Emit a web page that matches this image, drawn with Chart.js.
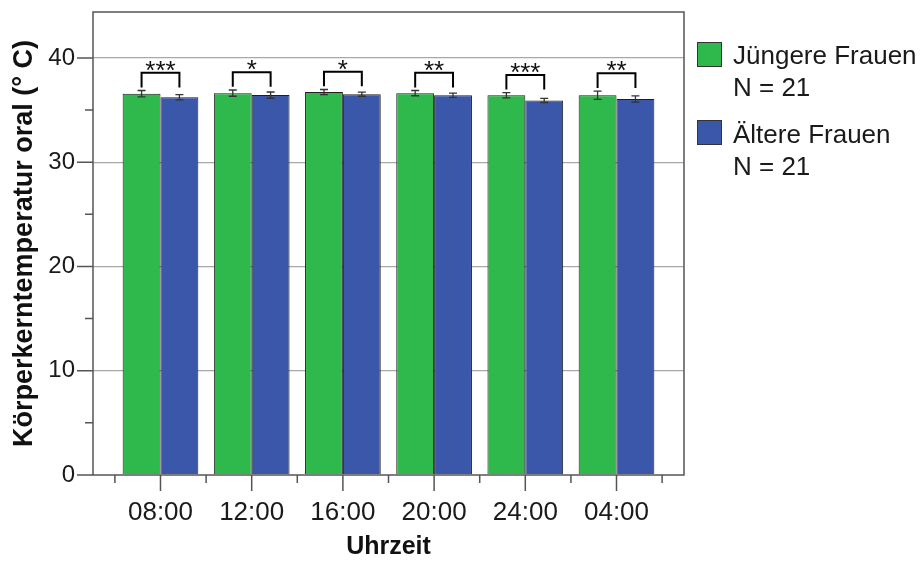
<!DOCTYPE html>
<html><head><meta charset="utf-8">
<script src="https://cdn.jsdelivr.net/npm/chart.js@4.4.1/dist/chart.umd.min.js"></script>
<style>html,body{margin:0;padding:0;background:#fff}#wrap{width:922px;height:562px}</style>
</head><body><div id="wrap"><canvas id="c" width="922" height="562"></canvas></div>
<script>
// ---- data ----
const categories = ['08:00', '12:00', '16:00', '20:00', '24:00', '04:00'];
const youngLabel = ['Jüngere Frauen', 'N = 21'];
const oldLabel = ['Ältere Frauen', 'N = 21'];
const youngMeans = [36.57, 36.62, 36.72, 36.62, 36.42, 36.42];
const youngErr = [0.30, 0.30, 0.25, 0.25, 0.25, 0.40];
const oldMeans = [36.22, 36.43, 36.52, 36.42, 35.92, 36.05];
const oldErr = [0.25, 0.30, 0.20, 0.20, 0.20, 0.30];
const significance = ['***', '*', '*', '**', '***', '**'];
const yTickValues = [0, 5, 10, 15, 20, 25, 30, 35, 40];
const yMax = 44.4;
const yTitle = 'Körperkerntemperatur oral (° C)';
const xTitle = 'Uhrzeit';

// ---- style ----
const FONT = '"Liberation Sans", Arial, Helvetica, sans-serif';
const GREEN = '#2fb84b';
const BLUE = '#3b57a9';
const FRAME = '#555555';

const decor = {
  id: 'decor',
  afterDatasetsDraw(chart) {
    const { ctx, scales: { y } } = chart;
    ctx.save();
    // error bars
    chart.data.datasets.forEach((ds, di) => {
      const meta = chart.getDatasetMeta(di);
      meta.data.forEach((bar, i) => {
        const m = ds.data[i].y, e = ds.errors[i];
        const px = bar.x, t = y.getPixelForValue(m + e), b = y.getPixelForValue(m - e);
        ctx.strokeStyle = '#333';
        ctx.lineWidth = 1.3;
        ctx.beginPath();
        ctx.moveTo(px, t); ctx.lineTo(px, b);
        ctx.moveTo(px - 4, t); ctx.lineTo(px + 4, t);
        ctx.moveTo(px - 4, b); ctx.lineTo(px + 4, b);
        ctx.stroke();
      });
    });
    // significance brackets
    const m0 = chart.getDatasetMeta(0), m1 = chart.getDatasetMeta(1);
    significance.forEach((s, i) => {
      const hi = Math.max(youngMeans[i] + youngErr[i], oldMeans[i] + oldErr[i]);
      const yt = y.getPixelForValue(hi + 1.7), yb = y.getPixelForValue(hi + 0.3);
      const x0 = m0.data[i].x, x1 = m1.data[i].x;
      ctx.strokeStyle = '#000';
      ctx.lineWidth = 2;
      ctx.beginPath();
      ctx.moveTo(x0, yb); ctx.lineTo(x0, yt); ctx.lineTo(x1, yt); ctx.lineTo(x1, yb);
      ctx.stroke();
      ctx.fillStyle = '#111';
      ctx.font = '26px ' + FONT;
      ctx.textAlign = 'center';
      ctx.textBaseline = 'alphabetic';
      ctx.fillText(s, (x0 + x1) / 2, yt + 6);
    });
    ctx.restore();
  },
  afterDraw(chart) {
    const { ctx, chartArea: a, scales: { x, y } } = chart;
    ctx.save();
    ctx.strokeStyle = FRAME;
    ctx.lineWidth = 1.5;
    ctx.strokeRect(a.left, a.top, a.right - a.left, a.bottom - a.top);
    ctx.beginPath();
    yTickValues.forEach(v => {
      const len = v % 10 === 0 ? 16 : 8;
      const py = y.getPixelForValue(v);
      ctx.moveTo(a.left - len, py); ctx.lineTo(a.left, py);
    });
    categories.forEach((c, i) => {
      const px = x.getPixelForValue(i);
      ctx.moveTo(px, a.bottom); ctx.lineTo(px, a.bottom + 16);
      const pl = x.getPixelForValue(i - 0.5);
      ctx.moveTo(pl, a.bottom); ctx.lineTo(pl, a.bottom + 8);
      if (i === categories.length - 1) {
        const pr = x.getPixelForValue(i + 0.5);
        ctx.moveTo(pr, a.bottom); ctx.lineTo(pr, a.bottom + 8);
      }
    });
    ctx.stroke();
    // legend
    const lx = a.right + 13;
    const entries = [
      { color: GREEN, lines: youngLabel, sq: 42, ty: 57 },
      { color: BLUE, lines: oldLabel, sq: 120, ty: 136 }
    ];
    ctx.font = '26px ' + FONT;
    ctx.textAlign = 'left';
    ctx.textBaseline = 'middle';
    entries.forEach(en => {
      ctx.fillStyle = en.color;
      ctx.fillRect(lx, en.sq, 25, 25);
      ctx.strokeStyle = '#333';
      ctx.lineWidth = 1;
      ctx.strokeRect(lx + 0.5, en.sq + 0.5, 24, 24);
      ctx.fillStyle = '#1a1a1a';
      en.lines.forEach((t, k) => ctx.fillText(t, lx + 36, en.ty + k * 32));
    });
    ctx.restore();
  }
};

new Chart(document.getElementById('c'), {
  type: 'bar',
  data: {
    datasets: [
      {
        label: youngLabel.join(' '),
        data: categories.map((c, i) => ({ x: i, y: youngMeans[i] })),
        errors: youngErr,
        backgroundColor: GREEN,
        borderColor: '#1e1e1e',
        borderWidth: 1,
        barPercentage: 1,
        categoryPercentage: 0.83
      },
      {
        label: oldLabel.join(' '),
        data: categories.map((c, i) => ({ x: i, y: oldMeans[i] })),
        errors: oldErr,
        backgroundColor: BLUE,
        borderColor: '#1e1e1e',
        borderWidth: 1,
        barPercentage: 1,
        categoryPercentage: 0.83
      }
    ]
  },
  options: {
    responsive: false,
    animation: false,
    devicePixelRatio: 1,
    layout: { padding: { top: 12, right: 238, left: 0, bottom: 0 } },
    plugins: { legend: { display: false }, tooltip: { enabled: false } },
    scales: {
      x: {
        type: 'linear',
        min: -0.74,
        max: 5.74,
        offset: false,
        afterBuildTicks: s => { s.ticks = categories.map((c, i) => ({ value: i })); },
        afterFit: s => { s.height = 87; s.paddingLeft = 0; s.paddingRight = 0; },
        grid: { display: false, drawTicks: false, offset: false },
        border: { display: false },
        ticks: {
          autoSkip: false, maxRotation: 0, minRotation: 0, padding: 22,
          color: '#1a1a1a', font: { family: FONT, size: 26 },
          callback: v => categories[v]
        },
        title: {
          display: true, text: xTitle, color: '#111',
          font: { family: FONT, size: 25, weight: 'bold' },
          padding: { top: 0, bottom: 0 }
        }
      },
      y: {
        min: 0,
        max: yMax,
        afterBuildTicks: s => { s.ticks = yTickValues.map(v => ({ value: v })); },
        afterFit: s => { s.width = 93; s.paddingTop = 0; s.paddingBottom = 0; },
        grid: {
          drawTicks: false,
          lineWidth: 1.3,
          color: c => (c.tick && c.tick.value % 10 === 0 && c.tick.value > 0) ? '#a8a8a8' : 'rgba(0,0,0,0)'
        },
        border: { display: false },
        ticks: {
          padding: 18, color: '#1a1a1a', font: { family: FONT, size: 24 },
          callback: v => (v % 10 === 0 ? String(v) : '')
        },
        title: {
          display: true, text: yTitle, color: '#111',
          font: { family: FONT, size: 27, weight: 'bold' },
          padding: { top: 8, bottom: 0 }
        }
      }
    }
  },
  plugins: [decor]
});
</script>
</body></html>
